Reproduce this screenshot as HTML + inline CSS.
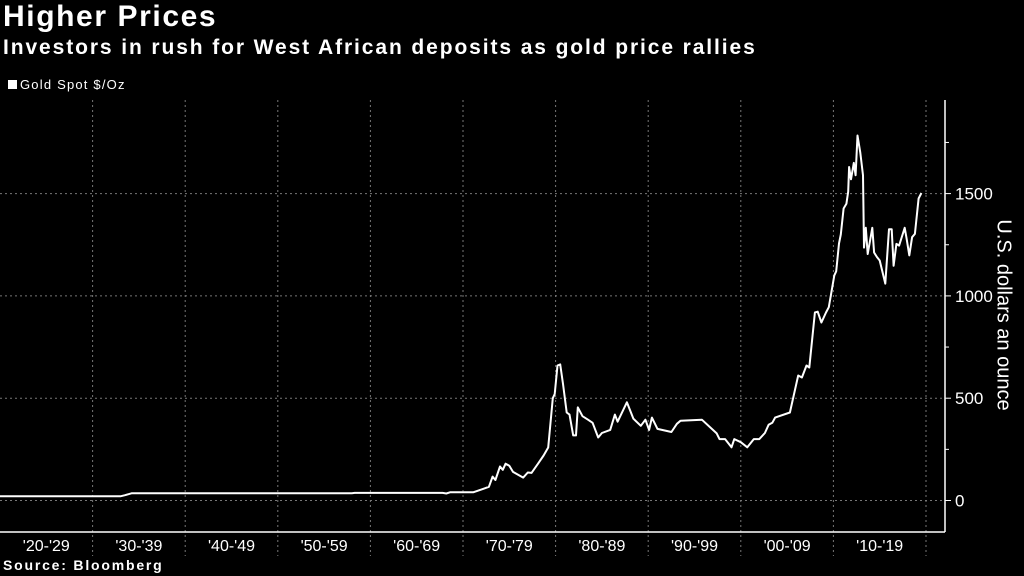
<!DOCTYPE html>
<html><head><meta charset="utf-8"><style>
html,body{margin:0;padding:0;background:#000;}
body{width:1024px;height:576px;overflow:hidden;position:relative;font-family:"Liberation Sans","DejaVu Sans",sans-serif;color:#fff;}
.t{position:absolute;white-space:nowrap;}
</style></head><body>
<div class="t" style="left:3px;top:0px;font-size:30px;font-weight:bold;letter-spacing:1.6px;">Higher Prices</div>
<div class="t" style="left:3px;top:36px;font-size:21px;font-weight:bold;letter-spacing:1.9px;">Investors in rush for West African deposits as gold price rallies</div>
<div class="t" style="left:8px;top:77px;font-size:13px;letter-spacing:1.2px;"><span style="display:inline-block;width:9px;height:9px;background:#fff;margin-right:3px;"></span>Gold Spot $/Oz</div>
<div class="t" style="left:3px;top:557px;font-size:14px;font-weight:bold;letter-spacing:1.8px;">Source: Bloomberg</div>
<div class="t" style="left:1003px;top:315px;font-size:20px;transform:translate(-50%,-50%) rotate(90deg);">U.S. dollars an ounce</div>
<svg id="chart" width="1024" height="576" style="position:absolute;left:0;top:0;"></svg>
<script>
const decadeLabels=["'20-'29","'30-'39","'40-'49","'50-'59","'60-'69","'70-'79","'80-'89","'90-'99","'00-'09","'10-'19"];
const yTicks=[0,500,1000,1500];
const years=[1920,1933.0,1933.5,1934.2,1958,1958.3,1967.8,1968.2,1968.6,1969.7,1971.1,1972.2,1972.8,1973.2,1973.5,1974.0,1974.3,1974.6,1975.0,1975.4,1976.5,1977.0,1977.4,1978.1,1978.7,1979.2,1979.7,1979.9,1980.2,1980.5,1980.8,1981.2,1981.5,1981.9,1982.2,1982.4,1982.9,1983.5,1984.0,1984.6,1985.0,1985.9,1986.4,1986.7,1987.7,1988.4,1989.2,1989.7,1990.1,1990.4,1991.0,1992.5,1993.1,1993.5,1995.8,1997.4,1997.7,1998.3,1999.0,1999.3,2000.0,2000.7,2001.4,2002.0,2002.6,2003.0,2003.4,2003.7,2005.3,2006.2,2006.6,2007.1,2007.4,2008.0,2008.3,2008.7,2009.2,2009.5,2010.1,2010.3,2010.6,2010.8,2011.1,2011.4,2011.6,2011.7,2011.9,2012.2,2012.4,2012.6,2012.9,2013.2,2013.3,2013.5,2013.7,2014.2,2014.4,2014.7,2015.0,2015.6,2016.0,2016.3,2016.5,2016.8,2017.1,2017.7,2017.9,2018.2,2018.5,2018.8,2019.2,2019.5];
const prices=[20.67,20.67,26,35,35,37,37,34,40,40,40,57,67,117,100,166,150,180,170,140,112,137,135,180,220,259,500,520,660,665,570,430,420,318,318,455,412,395,380,308,330,345,420,385,480,400,365,395,345,405,350,335,375,390,395,328,300,300,260,300,285,260,300,300,330,370,380,405,430,611,601,660,650,919,923,870,919,945,1100,1120,1256,1300,1427,1450,1510,1630,1570,1650,1590,1784,1700,1590,1236,1333,1205,1333,1212,1190,1173,1060,1326,1326,1147,1254,1246,1333,1280,1198,1287,1303,1476,1503];
const NS="http://www.w3.org/2000/svg";
const svg=document.getElementById('chart');
const X0=0,PX_PER_YEAR=9.26,AX=945,Y0=500.5,PX_PER_USD=0.2046,BOTTOM=532;
const xs=y=>X0+(y-1920)*PX_PER_YEAR;
const ys=v=>Y0-v*PX_PER_USD;
function mk(tag,attrs){const e=document.createElementNS(NS,tag);for(const k in attrs)e.setAttribute(k,attrs[k]);svg.appendChild(e);return e;}
yTicks.forEach(v=>{
  const g=mk('line',{x1:0,x2:AX,y1:ys(v),y2:ys(v),stroke:'#777','stroke-width':1,'stroke-dasharray':'2,3'});
  
  
  const tk=mk('line',{x1:AX,x2:AX+6,y1:ys(v),y2:ys(v),stroke:'#fff','stroke-width':1});
  
  
  const t=mk('text',{x:AX+10,y:ys(v)+6,fill:'#fff','font-size':17,'font-family':'Liberation Sans, sans-serif'});
  t.textContent=v;
  
  
});
[250,750,1250,1750].forEach(v=>{
  const tk=mk('line',{x1:AX,x2:AX+4,y1:ys(v),y2:ys(v),stroke:'#fff','stroke-width':1});
  
  
});
decadeLabels.forEach((lab,i)=>{
  const xr=xs(1930+i*10);
  const g=mk('line',{x1:xr,x2:xr,y1:100,y2:556,stroke:'#777','stroke-width':1,'stroke-dasharray':'2,3'});
  
  
  const t=mk('text',{x:xs(1925+i*10),y:551,fill:'#fff','font-size':16,'text-anchor':'middle','font-family':'Liberation Sans, sans-serif'});
  t.textContent=lab;
  
  
});
const ax1=mk('line',{x1:AX,x2:AX,y1:100,y2:BOTTOM,stroke:'#fff','stroke-width':1.5});


const ax2=mk('line',{x1:0,x2:AX,y1:BOTTOM,y2:BOTTOM,stroke:'#fff','stroke-width':1.5});


const pts=years.map((y,i)=>xs(y).toFixed(1)+','+ys(prices[i]).toFixed(1)).join(' ');
const line=mk('polyline',{points:pts,fill:'none',stroke:'#fff','stroke-width':2,'stroke-linejoin':'round'});


</script>
</body></html>
